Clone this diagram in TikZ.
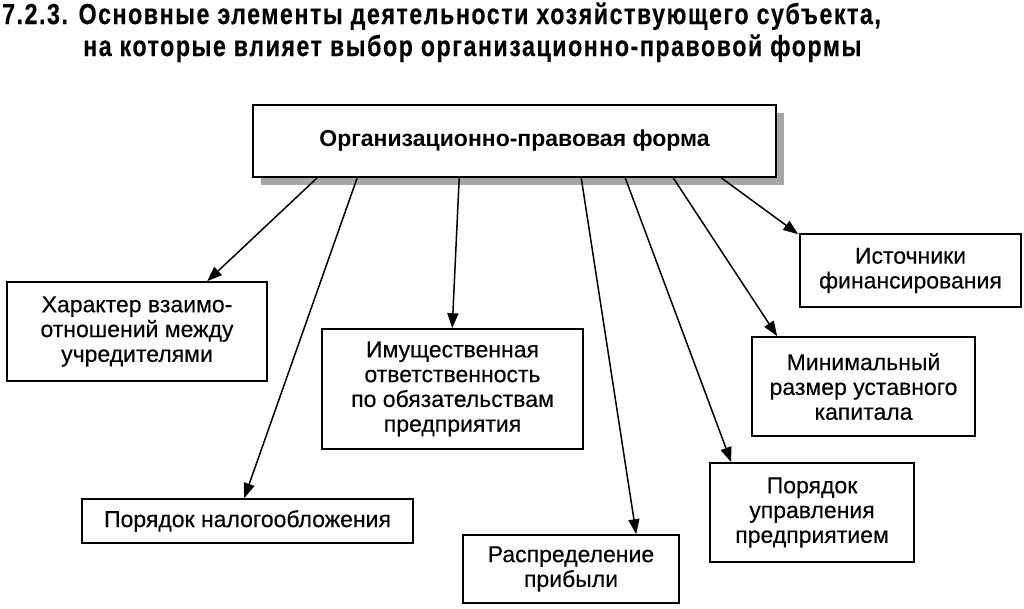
\documentclass[tikz,border=0pt]{standalone}
\usepackage{fontspec}
\setmainfont{Liberation Sans}
\newfontfamily\boxfont[FakeBold=0.3]{Liberation Sans}
\newfontfamily\titlefont[FakeStretch=0.8,LetterSpace=5.3,FakeBold=0.3]{Liberation Sans}
\usetikzlibrary{arrows.meta}
\begin{document}
\begin{tikzpicture}[x=1pt,y=-1pt,
  box/.style={draw=black,line width=1.6pt,fill=white,align=center,inner sep=0pt,
    font=\boxfont\fontsize{23}{24.8}\selectfont},
  arr/.style={line width=1.5pt,-{Triangle[length=15pt,width=11pt]}},
  ttl/.style={anchor=base west,inner sep=0pt,font=\titlefont\bfseries\fontsize{29}{31}\selectfont}]
\useasboundingbox (0,0) rectangle (1024,608);
\fill[white] (0,0) rectangle (1024,608);
% title
\node[ttl] (t1) at (2,24) {7.2.3. Основные элементы деятельности хозяйствующего субъекта,};
\node[ttl] (t2) at (83,56) {на которые влияет выбор организационно-правовой формы};
% top box with shadow
\fill[gray!70] (261,113) rectangle (784,185);
\node[box,minimum width=523,minimum height=72,font=\bfseries\fontsize{23}{26}\selectfont] (top) at (514.5,141) {Организационно-правовая форма};
% boxes
\node[box,minimum width=260,minimum height=99] (b1) at (137,331.5) {Характер взаимо-\\отношений между\\учредителями};
\node[box,minimum width=261,minimum height=120] (b2) at (452.5,389) {Имущественная\\ответственность\\по обязательствам\\предприятия};
\node[box,minimum width=331,minimum height=44] (b3) at (247.5,521) {Порядок налогообложения};
\node[box,minimum width=216,minimum height=68] (b4) at (571,569) {Распределение\\прибыли};
\node[box,minimum width=204,minimum height=99] (b5) at (812,512.5) {Порядок\\управления\\предприятием};
\node[box,minimum width=223,minimum height=99] (b6) at (863.5,386.5) {Минимальный\\размер уставного\\капитала};
\node[box,minimum width=221,minimum height=73] (b7) at (910.5,270.5) {Источники\\финансирования};
% arrows
\draw[arr] ([xshift=65pt]top.south west) -- ([xshift=201pt]b1.north west);
\draw[arr] ([xshift=105pt]top.south west) -- ([xshift=163pt]b3.north west);
\draw[arr] ([xshift=207pt]top.south west) -- ([xshift=131pt]b2.north west);
\draw[arr] ([xshift=329pt]top.south west) -- ([xshift=174pt]b4.north west);
\draw[arr] ([xshift=373pt]top.south west) -- ([xshift=22pt]b5.north west);
\draw[arr] ([xshift=421pt]top.south west) -- ([xshift=26pt]b6.north west);
\draw[arr] ([xshift=469pt]top.south west) -- ([xshift=-1pt,yshift=-1pt]b7.north west);
\end{tikzpicture}
\end{document}
